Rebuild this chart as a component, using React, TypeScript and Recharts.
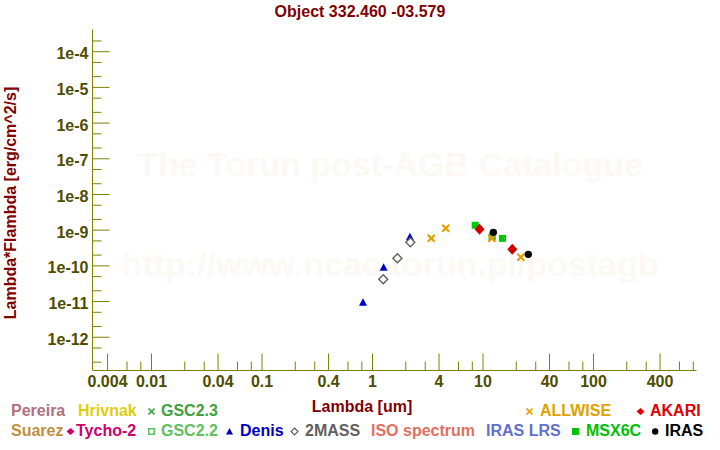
import { ScatterChart, Scatter, XAxis, YAxis } from "recharts";

const AXIS = "#808000";
const TICK_TEXT = "#4d4d00";
const DARK_RED = "#800000";
const FONT = "'Liberation Sans', Arial, sans-serif";

// photometry (lambda in um, lambda*F_lambda in erg/cm^2/s)
const denisLambda = [0.82, 1.26, 2.18];
const denisFlux = [9.3e-12, 8.9e-11, 6.3e-10];
const twoMassLambda = [1.25, 1.68, 2.2];
const twoMassFlux = [4.2e-11, 1.63e-10, 4.6e-10];
const msxLambda = [8.5, 12.1, 15.0];
const msxFlux = [1.37e-9, 6.6e-10, 5.9e-10];
const akariLambda = [9.3, 18.4];
const akariFlux = [1.06e-9, 2.9e-10];
const allwiseLambda = [3.4, 4.6, 12, 22];
const allwiseFlux = [5.9e-10, 1.13e-9, 5.9e-10, 1.74e-10];
const irasLambda = [12.4, 25.7];
const irasFlux = [8.7e-10, 2.1e-10];

const xDomain = [0.002924, 855];
const yDomain = [1.17e-13, 4.19e-4];
const xLabelled = [0.004, 0.01, 0.04, 0.1, 0.4, 1, 4, 10, 40, 100, 400];
const xTicks = [
  0.004, 0.006, 0.008, 0.01, 0.02, 0.03, 0.04, 0.06, 0.08, 0.1, 0.2, 0.3, 0.4, 0.6, 0.8,
  1, 2, 3, 4, 6, 8, 10, 20, 30, 40, 60, 80, 100, 200, 300, 400, 600, 800,
];
const yDecades = [-13, -12, -11, -10, -9, -8, -7, -6, -5, -4];
const yTicks = yDecades
  .flatMap((e) => [1, 2, 5].map((m) => m * Math.pow(10, e)))
  .filter((v) => v >= yDomain[0] && v <= yDomain[1]);

const pts = (l: number[], f: number[]) => l.map((x, i) => ({ x, y: f[i] }));

const isXMajor = (v: number) => xLabelled.some((m) => Math.abs(m - v) / m < 1e-6);
const isYMajor = (v: number) => {
  const l = Math.log10(v);
  return Math.abs(l - Math.round(l)) < 1e-6;
};

const tickText = { fill: TICK_TEXT, fontFamily: FONT, fontWeight: 700, fontSize: 16 };

function BottomTick({ x, y, payload }: any) {
  const major = isXMajor(payload.value);
  return (
    <g>
      <line x1={x} x2={x} y1={y} y2={y - (major ? 17 : 9)} stroke={AXIS} />
      {major && (
        <text x={x} y={y + 16} textAnchor="middle" {...tickText}>
          {String(payload.value)}
        </text>
      )}
    </g>
  );
}

function TopTick({ x, y, payload }: any) {
  const major = isXMajor(payload.value);
  return <line x1={x} x2={x} y1={y} y2={y + (major ? 17 : 9)} stroke={AXIS} />;
}

function LeftTick({ x, y, payload }: any) {
  const major = isYMajor(payload.value);
  return (
    <g>
      <line x1={x} x2={x + (major ? 17 : 9)} y1={y} y2={y} stroke={AXIS} />
      {major && (
        <text x={x - 4} y={y + 7.5} textAnchor="end" {...tickText}>
          {`1e${Math.round(Math.log10(payload.value))}`}
        </text>
      )}
    </g>
  );
}

function RightTick({ x, y, payload }: any) {
  const major = isYMajor(payload.value);
  return <line x1={x} x2={x - (major ? 17 : 9)} y1={y} y2={y} stroke={AXIS} />;
}

const Triangle = ({ cx, cy }: any) => (
  <polygon points={`${cx},${cy - 4.5} ${cx + 4},${cy + 3} ${cx - 4},${cy + 3}`} fill="#0000c8" />
);
const OpenDiamond = ({ cx, cy }: any) => (
  <polygon
    points={`${cx},${cy - 4.5} ${cx + 4.5},${cy} ${cx},${cy + 4.5} ${cx - 4.5},${cy}`}
    fill="#fff"
    stroke="#606060"
    strokeWidth={1.4}
  />
);
const Square = ({ cx, cy }: any) => <rect x={cx - 3.5} y={cy - 3.5} width={7} height={7} fill="#00c800" />;
const RedDiamond = ({ cx, cy }: any) => (
  <polygon points={`${cx},${cy - 5.5} ${cx + 5},${cy} ${cx},${cy + 5.5} ${cx - 5},${cy}`} fill="#d00000" />
);
const Cross = ({ cx, cy }: any) => (
  <g stroke="#e0a000" strokeWidth={2.2}>
    <line x1={cx - 3.5} y1={cy - 3.5} x2={cx + 3.5} y2={cy + 3.5} />
    <line x1={cx - 3.5} y1={cy + 3.5} x2={cx + 3.5} y2={cy - 3.5} />
  </g>
);
const Dot = ({ cx, cy }: any) => <circle cx={cx} cy={cy} r={3.7} fill="#000" />;

type Sym = "x" | "diamond" | "opensq" | "tri" | "odiamond" | "sq" | "dot" | null;

// legend layout: symbol start (sx) and text start (tx)
const legendRow1 = [
  { label: "Pereira", color: "#b07080", sym: null, sx: 0, tx: 11 },
  { label: "Hrivnak", color: "#e0cc10", sym: null, sx: 0, tx: 78 },
  { label: "GSC2.3", color: "#40a040", sym: "x", sx: 148, tx: 161 },
  { label: "ALLWISE", color: "#e0a000", sym: "x", sx: 526, tx: 540 },
  { label: "AKARI", color: "#e00000", sym: "diamond", sx: 637, tx: 650 },
];
const legendRow2 = [
  { label: "Suarez", color: "#c09040", sym: null, sx: 0, tx: 11 },
  { label: "Tycho-2", color: "#d0006a", sym: "diamond", sx: 67, tx: 76 },
  { label: "GSC2.2", color: "#60c060", sym: "opensq", sx: 148, tx: 161 },
  { label: "Denis", color: "#0000c0", sym: "tri", sx: 226, tx: 240 },
  { label: "2MASS", color: "#606060", sym: "odiamond", sx: 291, tx: 305 },
  { label: "ISO spectrum", color: "#e07060", sym: null, sx: 0, tx: 371 },
  { label: "IRAS LRS", color: "#6070d0", sym: null, sx: 0, tx: 486 },
  { label: "MSX6C", color: "#00c000", sym: "sq", sx: 572, tx: 586 },
  { label: "IRAS", color: "#000000", sym: "dot", sx: 652, tx: 665 },
];

function LegendSym({ sym, color }: { sym: Sym; color: string }) {
  if (sym === "x")
    return (
      <g stroke={color} strokeWidth={1.7}>
        <line x1={0.5} y1={0.5} x2={6.5} y2={6.5} />
        <line x1={0.5} y1={6.5} x2={6.5} y2={0.5} />
      </g>
    );
  if (sym === "diamond") return <polygon points="3.5,0 7.5,3.5 3.5,7 -0.5,3.5" fill={color} />;
  if (sym === "opensq") return <rect x={0.75} y={0.75} width={5.5} height={5.5} fill="none" stroke={color} strokeWidth={1.5} />;
  if (sym === "tri") return <polygon points="3.5,0 7,6.5 0,6.5" fill={color} />;
  if (sym === "odiamond") return <polygon points="3.5,0 7,3.5 3.5,7 0,3.5" fill="none" stroke={color} strokeWidth={1.2} />;
  if (sym === "sq") return <rect x={0} y={0} width={7} height={7} fill={color} />;
  if (sym === "dot") return <circle cx={3.2} cy={3.5} r={3.2} fill={color} />;
  return null;
}

function LegendRow({ items, top }: { items: any[]; top: number }) {
  return (
    <>
      {items.map((it) => (
        <div key={it.label}>
          {it.sym && (
            <svg style={{ position: "absolute", left: it.sx, top: top + 7, overflow: "visible" }} width={8} height={8}>
              <LegendSym sym={it.sym} color={it.color} />
            </svg>
          )}
          <div
            style={{
              position: "absolute",
              left: it.tx,
              top,
              color: it.color,
              fontFamily: FONT,
              fontWeight: 700,
              fontSize: 16,
              lineHeight: "20px",
              whiteSpace: "nowrap",
            }}
          >
            {it.label}
          </div>
        </div>
      ))}
    </>
  );
}

const watermark = {
  position: "absolute" as const,
  left: 0,
  width: 780,
  textAlign: "center" as const,
  fontFamily: FONT,
  fontWeight: 700,
  fontSize: 34,
  color: "#fcf8f3",
  whiteSpace: "nowrap" as const,
};

export default function App() {
  return (
    <div style={{ position: "relative", width: 720, height: 450, background: "#fff", overflow: "hidden" }}>
      <style>{`body{margin:0}`}</style>
      <div style={{ ...watermark, top: 145 }}>The Torun post-AGB Catalogue</div>
      <div style={{ ...watermark, top: 245 }}>http://www.ncac.torun.pl/postagb</div>
      <ScatterChart width={720} height={450} margin={{ top: 29.5, right: 23.5, bottom: 0, left: 0 }}>
        <XAxis
          xAxisId="b"
          dataKey="x"
          type="number"
          scale="log"
          domain={xDomain}
          allowDataOverflow
          ticks={xTicks}
          interval={0}
          tick={BottomTick}
          tickLine={false}
          tickSize={0}
          tickMargin={0}
          height={79.5}
          axisLine={{ stroke: AXIS }}
        />
        <XAxis
          xAxisId="t"
          orientation="top"
          dataKey="x"
          type="number"
          scale="log"
          domain={xDomain}
          allowDataOverflow
          ticks={xTicks}
          interval={0}
          tick={TopTick}
          tickLine={false}
          tickSize={0}
          tickMargin={0}
          height={0}
          axisLine={{ stroke: AXIS }}
        />
        <YAxis
          yAxisId="l"
          dataKey="y"
          type="number"
          scale="log"
          domain={yDomain}
          allowDataOverflow
          ticks={yTicks}
          interval={0}
          tick={LeftTick}
          tickLine={false}
          tickSize={0}
          tickMargin={0}
          width={92.5}
          axisLine={{ stroke: AXIS }}
        />
        <YAxis
          yAxisId="r"
          orientation="right"
          dataKey="y"
          type="number"
          scale="log"
          domain={yDomain}
          allowDataOverflow
          ticks={yTicks}
          interval={0}
          tick={RightTick}
          tickLine={false}
          tickSize={0}
          tickMargin={0}
          width={0}
          axisLine={{ stroke: AXIS }}
        />
        <Scatter xAxisId="b" yAxisId="l" data={pts(denisLambda, denisFlux)} shape={Triangle} isAnimationActive={false} />
        <Scatter xAxisId="b" yAxisId="l" data={pts(twoMassLambda, twoMassFlux)} shape={OpenDiamond} isAnimationActive={false} />
        <Scatter xAxisId="b" yAxisId="l" data={pts(msxLambda, msxFlux)} shape={Square} isAnimationActive={false} />
        <Scatter xAxisId="b" yAxisId="l" data={pts(akariLambda, akariFlux)} shape={RedDiamond} isAnimationActive={false} />
        <Scatter xAxisId="b" yAxisId="l" data={pts(allwiseLambda, allwiseFlux)} shape={Cross} isAnimationActive={false} />
        <Scatter xAxisId="b" yAxisId="l" data={pts(irasLambda, irasFlux)} shape={Dot} isAnimationActive={false} />
        <text x={360} y={17} textAnchor="middle" fill={DARK_RED} fontFamily={FONT} fontWeight={700} fontSize={16}>
          Object 332.460 -03.579
        </text>
      </ScatterChart>
      <div
        style={{
          position: "absolute",
          left: 0,
          width: 724,
          top: 397,
          textAlign: "center",
          color: DARK_RED,
          fontFamily: FONT,
          fontWeight: 700,
          fontSize: 16,
          lineHeight: "20px",
        }}
      >
        Lambda [um]
      </div>
      <svg style={{ position: "absolute", left: 0, top: 0 }} width={30} height={450}>
        <text
          x={16}
          y={203}
          transform="rotate(-90 16 203)"
          textAnchor="middle"
          fill={DARK_RED}
          fontFamily={FONT}
          fontWeight={700}
          fontSize={16}
        >
          Lambda*Flambda [erg/cm^2/s]
        </text>
      </svg>
      <LegendRow items={legendRow1} top={401} />
      <LegendRow items={legendRow2} top={421} />
    </div>
  );
}
